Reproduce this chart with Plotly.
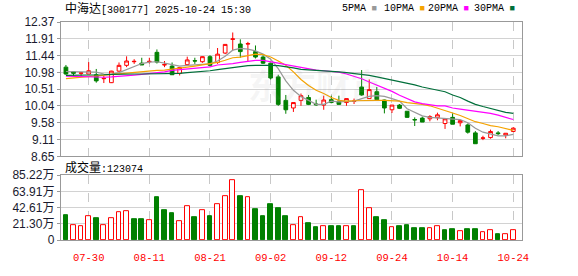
import plotly.graph_objects as go

# ---------------- data ----------------
dates = ["07-25","07-28","07-29","07-30","07-31","08-01","08-04","08-05","08-06","08-07",
         "08-08","08-11","08-12","08-13","08-14","08-15","08-18","08-19","08-20","08-21",
         "08-22","08-25","08-26","08-27","08-28","08-29","09-01","09-02","09-03","09-04",
         "09-05","09-08","09-09","09-10","09-11","09-12","09-15","09-16","09-17","09-18",
         "09-19","09-22","09-23","09-24","09-25","09-26","09-29","09-30","10-09","10-10",
         "10-13","10-14","10-15","10-16","10-17","10-20","10-21","10-22","10-23","10-24"]

opens  = [11.12,10.99,10.95,10.93,10.91,10.80,10.69,11.01,11.17,11.27,
          11.23,11.27,11.53,11.18,11.15,10.95,11.19,11.30,11.27,11.41,
          11.25,11.51,11.89,11.76,11.76,11.55,11.40,11.23,10.85,10.20,
          9.99,10.20,10.28,10.10,10.07,10.22,10.18,10.14,10.17,10.57,
          10.25,10.44,10.21,9.94,10.07,9.90,9.67,9.71,9.69,9.72,
          9.56,9.73,9.58,9.52,9.30,9.15,9.17,9.30,9.24,9.34]
highs  = [11.18,11.00,10.98,11.26,11.07,10.88,11.02,11.25,11.42,11.34,
          11.38,11.38,11.61,11.29,11.25,11.12,11.41,11.38,11.42,11.45,
          11.65,11.76,12.08,11.89,11.82,11.72,11.45,11.24,10.91,10.35,
          10.14,10.39,10.35,10.22,10.33,10.33,10.33,10.25,10.25,11.04,
          10.78,10.57,10.22,10.07,10.10,9.90,9.73,9.75,9.79,9.86,
          9.69,9.84,9.64,9.56,9.35,9.22,9.39,9.35,9.29,9.46]
lows   = [10.91,10.88,10.88,10.93,10.69,10.68,10.68,10.99,11.12,11.21,
          11.18,11.22,11.22,11.12,10.91,10.89,11.19,11.21,11.24,11.15,
          11.21,11.48,11.57,11.38,11.29,11.36,11.21,10.78,10.05,9.83,
          9.88,10.05,10.07,10.05,9.94,10.12,10.08,10.05,10.10,10.33,
          10.24,10.22,9.84,9.85,9.96,9.72,9.49,9.60,9.62,9.65,
          9.41,9.54,9.48,9.28,9.00,9.10,9.14,9.24,9.15,9.32]
closes = [10.93,10.95,10.96,11.02,10.74,10.81,11.01,11.17,11.29,11.28,
          11.18,11.28,11.26,11.19,10.91,11.11,11.32,11.29,11.41,11.17,
          11.48,11.75,11.90,11.55,11.77,11.40,11.23,10.82,10.09,9.94,
          10.14,10.33,10.09,10.08,10.21,10.14,10.09,10.25,10.18,10.35,
          10.50,10.22,9.99,10.07,9.98,9.73,9.66,9.60,9.75,9.80,
          9.69,9.54,9.64,9.32,9.00,9.16,9.34,9.28,9.29,9.43]

ma5  = [11.00,11.00,10.99,10.99,10.98,10.93,10.92,10.97,11.05,11.15,
        11.22,11.26,11.27,11.23,11.18,11.15,11.17,11.19,11.21,11.21,
        11.29,11.42,11.59,11.64,11.62,11.57,11.48,11.34,11.08,10.74,
        10.48,10.31,10.20,10.09,10.09,10.18,10.16,10.16,10.18,10.25,
        10.31,10.33,10.31,10.25,10.18,9.97,9.86,9.77,9.73,9.71,
        9.69,9.68,9.67,9.58,9.43,9.32,9.27,9.22,9.22,9.26]
ma10 = [10.80,10.82,10.84,10.87,10.88,10.90,10.91,10.93,10.95,10.98,
        10.99,11.02,11.03,11.04,11.06,11.09,11.12,11.15,11.18,11.21,
        11.25,11.31,11.38,11.40,11.45,11.48,11.47,11.40,11.29,11.17,
        10.99,10.78,10.61,10.48,10.39,10.28,10.20,10.18,10.19,10.20,
        10.20,10.20,10.20,10.20,10.18,10.14,10.12,10.09,10.05,9.99,
        9.92,9.85,9.78,9.69,9.61,9.56,9.50,9.47,9.43,9.37]
ma20 = [10.87,10.86,10.85,10.84,10.84,10.84,10.85,10.86,10.87,10.90,
        10.92,10.94,10.96,10.99,11.03,11.05,11.06,11.08,11.11,11.13,
        11.18,11.19,11.22,11.25,11.29,11.31,11.31,11.28,11.23,11.19,
        11.15,11.11,11.06,11.04,11.02,11.00,10.98,10.93,10.87,10.80,
        10.71,10.63,10.55,10.45,10.34,10.25,10.16,10.11,10.07,10.05,
        10.05,9.99,9.96,9.93,9.91,9.88,9.84,9.79,9.74,9.67]
ma30 = [10.89,10.89,10.89,10.89,10.90,10.91,10.92,10.93,10.93,10.93,
        10.93,10.93,10.94,10.94,10.95,10.95,10.97,10.98,11.00,11.02,
        11.05,11.08,11.10,11.13,11.16,11.17,11.18,11.17,11.16,11.14,
        11.10,11.06,11.05,11.03,11.02,11.00,10.99,10.97,10.95,10.93,
        10.89,10.85,10.81,10.77,10.73,10.68,10.63,10.57,10.52,10.48,
        10.44,10.35,10.28,10.18,10.09,10.03,9.97,9.91,9.87,9.84]

# volume in 万 (10,000 shares)
volumes_wan = [32.4,19.7,17.6,31.1,28.7,19.7,28.7,36.0,38.5,27.9,
               27.9,26.2,56.9,38.9,34.8,25.0,44.6,29.9,39.7,31.1,
               47.1,58.2,79.1,58.2,55.7,40.1,31.1,47.5,42.2,31.1,
               19.7,29.9,21.7,16.8,18.8,18.8,18.0,18.8,18.8,65.1,
               42.2,29.9,26.6,16.4,17.6,20.1,15.6,15.6,15.2,17.6,
               12.7,13.9,11.5,13.9,13.9,9.8,12.3,7.8,7.4,12.3074]

price_ticks = ["8.65","9.11","9.58","10.04","10.51","10.98","11.44","11.91","12.37"]
vol_ticks = ["0","21.30万","42.61万","63.91万","85.22万"]
x_tick_labels = ["07-30","08-11","08-21","09-02","09-12","09-24","10-14","10-24"]
ma_names = ["5PMA","10PMA","20PMA","30PMA"]

title_code = "中海达[300177] 2025-10-24 15:30"
last_volume = 123074

# ---------------- styles ----------------
RED = "#ff0000"
GREEN = "#008000"
MA_COLORS = ["#999999", "#f5a300", "#ff00ff", "#006f3a"]
FRAME = "#999999"
GRID = "#d2d2d2"

W, H = 578, 276
L, R, T, B = 55, 522, 22, 254        # plot frame in pixels
PRICE_BOTTOM = 165
VOL_TOP = 185

def px(x):
    return (x - L) / (R - L)

def py(y):
    return (B - y) / (B - T)

vols = [v * 10000 for v in volumes_wan]
vol_fill, vol_line = [], []
for i in range(len(closes)):
    up = closes[i] >= closes[i - 1] if i > 0 else closes[i] >= opens[i]
    vol_fill.append("white" if up else GREEN)
    vol_line.append(RED if up else GREEN)

fig = go.Figure()

fig.add_trace(go.Candlestick(
    x=dates, open=opens, high=highs, low=lows, close=closes,
    increasing=dict(line=dict(color=RED, width=1), fillcolor="white"),
    decreasing=dict(line=dict(color=GREEN, width=1), fillcolor=GREEN),
    whiskerwidth=0, xaxis="x", yaxis="y", showlegend=False, hoverinfo="skip"))

for name, vals, col in zip(ma_names, [ma5, ma10, ma20, ma30], MA_COLORS):
    fig.add_trace(go.Scatter(x=dates, y=vals, mode="lines", name=name,
                             line=dict(color=col, width=1.2),
                             xaxis="x", yaxis="y", showlegend=False, hoverinfo="skip"))

fig.add_trace(go.Bar(x=dates, y=vols, width=0.62,
                     marker=dict(color=vol_fill, line=dict(color=vol_line, width=1)),
                     xaxis="x2", yaxis="y2", showlegend=False, hoverinfo="skip"))

pmin, pmax = float(price_ticks[0]), float(price_ticks[-1])
pstep = (pmax - pmin) / (len(price_ticks) - 1)
price_vals = [pmin + k * pstep for k in range(len(price_ticks))]
vmax = float(vol_ticks[-1].replace("万", "")) * 10000
vol_vals = [k * vmax / (len(vol_ticks) - 1) for k in range(len(vol_ticks))]

xr = [-0.65, len(dates) - 1 + 1.15]
common_x = dict(type="category", range=xr, tickvals=x_tick_labels,
                showgrid=True, gridcolor="#c8c8c8", griddash="dash", gridwidth=1,
                showline=True, mirror=True, linecolor=FRAME, linewidth=1.3,
                zeroline=False, fixedrange=True)

fig.update_layout(
    width=W, height=H,
    margin=dict(l=L, r=W - R, t=T, b=H - B),
    paper_bgcolor="white", plot_bgcolor="white",
    bargap=0,
    xaxis=dict(**common_x, anchor="y", showticklabels=False, ticks="",
               rangeslider=dict(visible=False)),
    xaxis2=dict(**common_x, anchor="y2", matches="x", showticklabels=True,
                ticks="outside", ticklen=7, tickcolor="rgba(0,0,0,0)",
                tickfont=dict(family="Liberation Mono", size=10.5, color=RED)),
    yaxis=dict(domain=[py(PRICE_BOTTOM), 1], range=[pmin, pmax],
               tickvals=price_vals, ticktext=price_ticks,
               showgrid=True, gridcolor=GRID, gridwidth=1, zeroline=False,
               showline=True, mirror=True, linecolor=FRAME, linewidth=1.3,
               ticks="outside", ticklen=3, tickcolor=FRAME,
               tickfont=dict(family="Liberation Sans", size=12, color="#1a1a2e")),
    yaxis2=dict(domain=[0, py(VOL_TOP)], range=[0, vmax],
                tickvals=vol_vals, ticktext=vol_ticks,
                showgrid=True, gridcolor=GRID, gridwidth=1, zeroline=False,
                showline=True, mirror=True, linecolor=FRAME, linewidth=1.3,
                ticks="outside", ticklen=3, tickcolor=FRAME,
                tickfont=dict(family="Liberation Sans, Noto Sans CJK SC", size=12, color="#1a1a2e")),
)

def mixed(text, cjk_size=12):
    out = []
    for ch in text:
        if ord(ch) > 0x2e80:
            out.append(f"<span style='font-size:{cjk_size}px'>{ch}</span>")
        else:
            out.append(ch)
    return "".join(out)

ann = []
ann.append(dict(text=mixed(title_code), x=px(57), y=py(8), xref="paper", yref="paper",
                xanchor="left", yanchor="middle", showarrow=False,
                font=dict(family="Liberation Mono, Noto Sans CJK SC", size=10, color="#000")))
ann.append(dict(text=mixed("成交量:" + str(last_volume)), x=px(57), y=py(177.5),
                xref="paper", yref="paper", xanchor="left", yanchor="middle", showarrow=False,
                font=dict(family="Liberation Mono, Noto Sans CJK SC", size=10, color="#000")))

legend_x = [338, 380, 425, 471]
for name, col, lx in zip(ma_names, MA_COLORS, legend_x):
    ann.append(dict(text=name + f"<span style='color:{col};font-size:9px'> ■</span>",
                    x=px(lx), y=py(8), xref="paper", yref="paper",
                    xanchor="left", yanchor="middle", showarrow=False,
                    font=dict(family="Liberation Mono", size=10, color="#000")))

# faint watermark
ann.append(dict(text="<b>东方财富</b>", x=px(313), y=py(88), xref="paper", yref="paper",
                xanchor="center", yanchor="middle", showarrow=False,
                font=dict(family="Noto Sans CJK SC", size=34, color="rgba(150,150,150,0.09)")))
fig.update_layout(annotations=ann)

fig.write_html("out.html")
